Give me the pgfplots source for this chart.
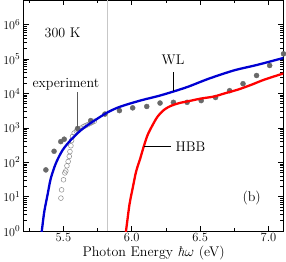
\documentclass[border=0pt]{standalone}
\usepackage{pgfplots}
\pgfplotsset{compat=1.18}
\definecolor{wlblue}{RGB}{0,0,210}
\definecolor{expgray}{RGB}{105,105,105}
\definecolor{opengray}{RGB}{140,140,140}
\begin{document}
\begin{tikzpicture}[x=1bp,y=1bp]
\begin{axis}[
  scale only axis,
  width=259bp, height=230bp,
  xmin=5.21, xmax=7.11,
  ymode=log, ymin=1, ymax=5e6,
  xtick={5.5,6.0,6.5,7.0},
  xticklabels={5.5,6.0,6.5,7.0},
  minor xtick={5.25,5.75,6.25,6.75},
  ytick={1,10,100,1000,10000,100000,1000000},
  tick align=inside,
  xtick pos=both, ytick pos=both,
  major tick length=5bp, minor tick length=3bp,
  axis line style={line width=0.9pt},
  every tick/.style={line width=0.6pt, black},
  tick label style={font=\fontsize{12.5}{14}\selectfont},
  xticklabel style={inner sep=1.5bp},
  xlabel={Photon Energy \textit{ħ}$\omega$ (eV)},
  xlabel style={font=\fontsize{14}{16}\selectfont, inner sep=1.5bp, yshift=-1bp},
  clip mode=individual,
]
% gray vertical line
\addplot[color=black!22, line width=1.2pt] coordinates {(5.824,1) (5.824,5e6)};
% open circles (experiment, other)
\addplot[only marks, mark=o, mark size=2.4bp, mark options={draw=opengray, line width=0.5pt}] coordinates {
(5.482,9.1) (5.487,15.8) (5.501,31) (5.511,49) (5.518,56) (5.526,79) (5.535,105)
(5.543,148) (5.548,204) (5.555,302) (5.560,427) (5.567,562) (5.579,708) (5.595,794)
(5.610,891) (5.628,977) (5.645,1070) (5.660,1150) (5.677,1230) (5.695,1350)
(5.710,1450) (5.726,1550)
};
% filled circles (experiment 300 K)
\addplot[only marks, mark=*, mark size=2.5bp, mark options={fill=expgray, draw=expgray}] coordinates {
(5.372,60) (5.432,209) (5.481,398) (5.506,468) (5.604,955) (5.700,1620) (5.804,2510)
(5.910,3160) (6.007,3800) (6.110,4170) (6.207,5250) (6.305,5500) (6.405,5500)
(6.508,6170) (6.613,7590) (6.716,12000) (6.814,19100) (6.913,33100) (7.009,64600)
(7.110,141000)
};
% WL curve
\addplot[color=wlblue, line width=2.3pt, smooth] coordinates {
(5.337,0.8) (5.342,1) (5.360,3.6) (5.384,11.2) (5.408,34) (5.445,93) (5.494,224)
(5.555,447) (5.628,851) (5.700,1380) (5.824,2820) (5.920,4170) (6.070,6310)
(6.200,8510) (6.310,11500) (6.410,15500) (6.500,21400) (6.580,28200)
(6.750,46800) (6.920,67600) (7.110,107000)
};
% HBB curve
\addplot[color=red, line width=2.3pt, smooth] coordinates {
(5.953,0.8) (5.958,1) (5.983,5.75) (6.007,17.8) (6.032,53.7) (6.063,132) (6.088,288)
(6.117,631) (6.154,1230) (6.190,2140) (6.239,3390) (6.288,4370) (6.349,5250)
(6.435,6170) (6.506,7080) (6.603,8130) (6.679,10000) (6.777,12900) (6.875,17800)
(6.970,25100) (7.110,38000)
};
% annotations
\draw[black!65, line width=0.7pt] (axis cs:5.604,1000) -- (axis cs:5.604,10700);
\draw[black, line width=0.7pt] (axis cs:6.305,11600) -- (axis cs:6.305,43000);
\draw[black, line width=0.7pt] (axis cs:6.092,288) -- (axis cs:6.285,288);
\node[font=\fontsize{14}{16}\selectfont] at (axis cs:5.518,19000) {experiment};
\node[font=\fontsize{14}{16}\selectfont] at (axis cs:5.494,560000) {300 K};
\node[font=\fontsize{14}{16}\selectfont] at (axis cs:6.302,91000) {WL};
\node[font=\fontsize{14}{16}\selectfont, anchor=west] at (axis cs:6.295,288) {HBB};
\node[font=\fontsize{14}{16}\selectfont] at (axis cs:6.877,8.9) {(b)};
\end{axis}
\end{tikzpicture}
\end{document}
